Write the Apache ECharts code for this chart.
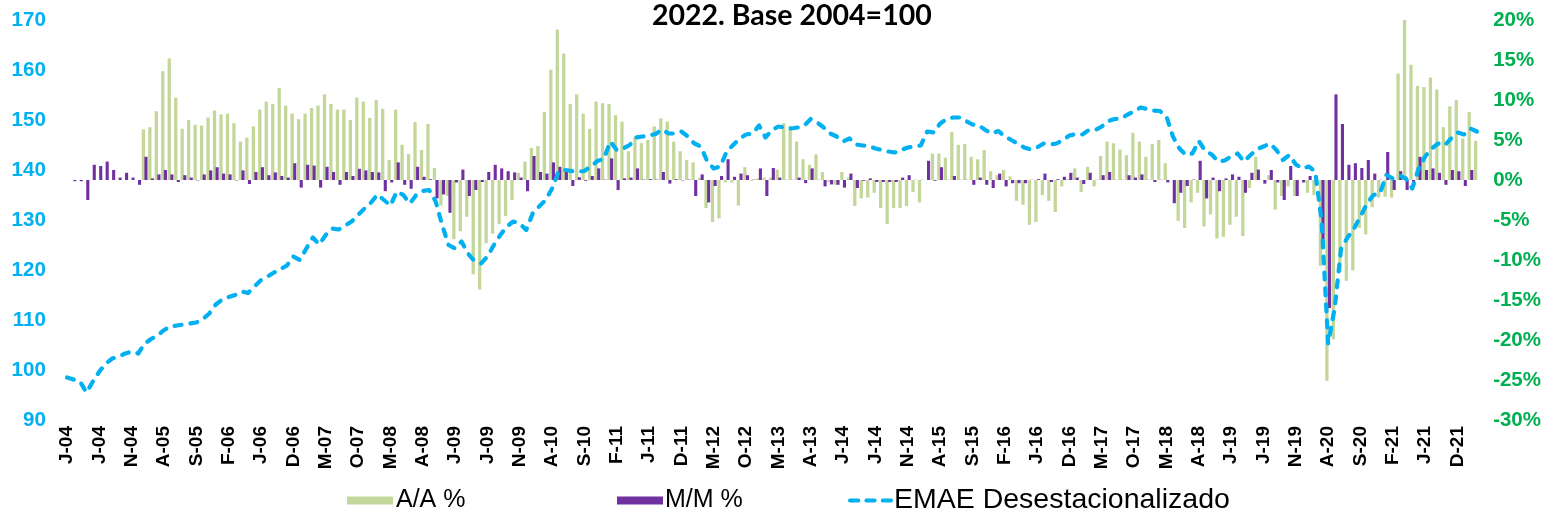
<!DOCTYPE html>
<html>
<head>
<meta charset="utf-8">
<script src="https://cdn.jsdelivr.net/npm/echarts@6/dist/echarts.min.js"></script>
<style>
html,body{margin:0;padding:0;background:#fff;}
#chart{width:1544px;height:515px;}
</style>
</head>
<body>
<div id="chart"></div>
<script>
const categories = [
'J-04','F-04','M-04','A-04','M-04','J-04','J-04','A-04','S-04','O-04','N-04','D-04',
'J-05','F-05','M-05','A-05','M-05','J-05','J-05','A-05','S-05','O-05','N-05','D-05',
'J-06','F-06','M-06','A-06','M-06','J-06','J-06','A-06','S-06','O-06','N-06','D-06',
'J-07','F-07','M-07','A-07','M-07','J-07','J-07','A-07','S-07','O-07','N-07','D-07',
'J-08','F-08','M-08','A-08','M-08','J-08','J-08','A-08','S-08','O-08','N-08','D-08',
'J-09','F-09','M-09','A-09','M-09','J-09','J-09','A-09','S-09','O-09','N-09','D-09',
'J-10','F-10','M-10','A-10','M-10','J-10','J-10','A-10','S-10','O-10','N-10','D-10',
'J-11','F-11','M-11','A-11','M-11','J-11','J-11','A-11','S-11','O-11','N-11','D-11',
'J-12','F-12','M-12','A-12','M-12','J-12','J-12','A-12','S-12','O-12','N-12','D-12',
'J-13','F-13','M-13','A-13','M-13','J-13','J-13','A-13','S-13','O-13','N-13','D-13',
'J-14','F-14','M-14','A-14','M-14','J-14','J-14','A-14','S-14','O-14','N-14','D-14',
'J-15','F-15','M-15','A-15','M-15','J-15','J-15','A-15','S-15','O-15','N-15','D-15',
'J-16','F-16','M-16','A-16','M-16','J-16','J-16','A-16','S-16','O-16','N-16','D-16',
'J-17','F-17','M-17','A-17','M-17','J-17','J-17','A-17','S-17','O-17','N-17','D-17',
'J-18','F-18','M-18','A-18','M-18','J-18','J-18','A-18','S-18','O-18','N-18','D-18',
'J-19','F-19','M-19','A-19','M-19','J-19','J-19','A-19','S-19','O-19','N-19','D-19',
'J-20','F-20','M-20','A-20','M-20','J-20','J-20','A-20','S-20','O-20','N-20','D-20',
'J-21','F-21','M-21','A-21','M-21','J-21','J-21','A-21','S-21','O-21','N-21','D-21',
'J-22','F-22','M-22'
];

// A/A % (year-on-year)
const aaPct = [
null,null,null,null,null,null,null,null,null,null,null,null,
6.33,6.6,8.6,13.6,15.2,10.3,6.4,7.5,6.9,6.8,7.8,8.7,
8.2,8.3,7.1,4.8,5.3,6.7,8.8,9.8,9.5,11.5,9.3,8.3,
7.6,8.3,9.0,9.3,10.7,9.5,8.8,8.8,7.5,10.3,9.8,7.75,
10.0,8.9,2.5,8.8,4.4,3.25,7.25,3.75,7.0,1.5,-3.2,-2.0,
-7.4,-6.4,-4.6,-11.8,-13.7,-7.9,-6.7,-5.5,-4.5,-2.5,0.9,2.3,
4.0,4.25,8.5,13.8,18.8,15.8,9.5,10.7,8.3,6.4,9.8,9.6,
9.5,8.1,7.3,3.6,5.4,4.6,5.0,6.7,7.7,7.3,4.8,3.6,
2.5,2.2,0.3,-3.5,-5.25,-4.8,-0.3,-0.3,-3.2,1.6,-0.1,0.2,
0.3,0.3,1.3,7.1,6.7,4.8,2.6,1.9,3.2,1.0,-0.3,-0.6,
1.0,0.3,-3.25,-2.3,-2.2,-1.6,-3.5,-5.5,-3.5,-3.5,-3.25,-1.5,
-2.8,0.0,3.3,3.3,2.8,6.0,4.4,4.5,2.9,2.6,3.75,1.1,
0.6,1.25,0.45,-2.6,-3.1,-5.6,-5.25,-1.9,-2.6,-4.0,-0.8,0.1,
1.45,-1.5,1.65,-0.8,3.0,4.8,4.6,3.8,3.1,5.9,4.8,2.9,
4.5,5.0,2.1,0.0,-5.1,-6.0,-2.8,-1.6,-5.8,-4.3,-7.3,-7.1,
-5.6,-4.6,-7.0,-1.0,2.9,0.0,0.6,-3.7,-2.0,-0.8,-2.0,0.0,
-1.6,-1.9,-10.75,-25.1,-19.9,-11.5,-12.6,-11.3,-6.0,-6.8,-3.4,-2.2,
-2.1,-2.2,13.3,20.1,14.4,11.75,11.6,12.8,11.3,6.6,9.2,10.0,
5.2,8.5,4.9
];

// M/M % (month-on-month)
const mmPct = [
null,-0.15,-0.15,-2.5,1.9,1.75,2.3,1.25,0.3,0.9,0.3,-0.6,
2.9,0.2,0.7,1.25,0.7,-0.25,0.6,0.3,-0.05,0.7,1.2,1.6,
0.8,0.7,-0.05,1.2,-0.5,1.0,1.6,0.6,0.95,0.5,0.3,2.1,
-0.95,1.9,1.8,-0.95,1.65,1.0,-0.6,1.0,0.5,1.4,1.2,1.0,
0.95,-1.4,-0.3,2.2,-0.6,-1.1,1.65,0.4,0.1,-2.3,-1.8,-4.1,
-0.3,1.3,-2.0,-1.25,-0.25,1.0,1.9,1.45,1.1,0.95,0.3,-1.4,
3.0,1.0,0.8,2.2,1.65,1.0,-0.75,0.35,-0.1,0.5,1.45,0.05,
2.7,-1.25,0.2,0.3,1.45,0.05,0.1,0.05,1.0,-0.45,0.1,-0.05,
0.05,-2.0,0.7,-2.8,-0.75,0.5,2.6,0.4,0.8,0.6,0.05,1.45,
-2.0,1.5,0.3,0.02,0.02,0.3,-0.4,1.45,0.02,-0.8,-0.55,-0.6,
-0.95,0.8,-1.0,-0.1,0.2,-0.25,-0.25,-0.25,-0.25,0.3,0.6,0.02,
0.02,2.4,-0.1,1.6,0.02,0.5,0.02,0.02,-0.6,0.3,-0.6,-1.0,
0.8,-0.8,-0.4,-0.4,-0.4,0.02,0.1,0.8,-0.25,0.1,0.4,0.9,
0.3,-0.5,0.9,0.02,0.6,1.0,0.02,0.02,0.6,0.3,0.7,0.02,
-0.25,0.02,-0.3,-2.9,-1.6,-0.75,0.05,2.4,-2.3,0.3,-1.4,0.2,
0.7,0.4,-1.6,0.9,1.3,-0.45,1.25,-0.3,-2.5,1.75,-2.0,-0.3,
0.5,0.02,-8.5,-16.0,10.7,7.0,1.9,2.1,1.5,2.5,0.8,0.02,
3.5,-1.25,1.1,-1.25,-0.55,2.9,1.25,1.45,0.9,-0.6,1.25,1.1,
-0.75,1.25,null
];

// EMAE desestacionalizado (index, 2004=100)
const emae = [
98.5,98.1,97.7,95.5,97.7,99.7,101.3,102.3,102.7,103.3,103.7,103.3,
105.3,106.2,106.9,108.0,108.7,108.9,109.1,109.3,109.5,110.2,111.3,113.1,
114.1,114.6,115.0,115.7,115.4,116.7,118.0,118.7,119.5,120.2,120.9,122.7,
122.0,124.3,126.5,125.1,127.0,128.3,128.1,128.9,129.7,131.0,132.3,133.5,
135.1,134.0,132.9,135.7,135.0,133.3,135.0,135.8,136.0,133.7,129.0,125.0,
124.3,125.7,123.3,121.8,121.3,122.7,125.0,127.0,128.7,129.7,129.3,128.0,
131.3,132.7,134.0,136.3,139.7,140.0,139.8,139.7,139.8,140.7,141.8,142.2,
145.7,144.0,144.3,145.0,146.5,146.7,146.9,147.2,148.1,147.3,147.3,147.7,
146.7,145.3,144.7,141.7,140.3,140.7,143.7,145.0,146.3,147.1,147.3,148.9,
146.5,148.0,148.7,148.5,148.3,148.5,148.9,150.2,149.5,148.5,147.3,146.7,
145.7,146.3,145.1,144.9,144.8,144.3,144.0,143.7,143.5,144.0,144.5,144.7,
144.9,147.7,147.5,149.3,150.2,150.5,150.5,149.8,149.1,148.9,148.0,147.3,
147.8,146.7,146.0,145.3,144.5,144.1,144.5,145.3,145.1,145.3,146.0,146.9,
147.2,147.1,148.0,148.0,148.7,149.8,150.2,150.3,151.1,151.7,152.5,152.2,
151.9,151.8,150.7,146.7,144.3,143.0,143.3,145.8,143.8,143.1,141.7,141.9,
142.7,143.3,141.7,143.0,144.2,144.7,145.3,144.0,142.0,143.0,141.1,140.3,
140.7,139.7,129.7,105.3,112.3,124.3,126.5,128.3,130.7,133.3,135.0,135.3,
139.0,138.3,138.9,138.3,136.3,140.3,142.7,144.3,145.3,144.9,146.3,147.5,
147.1,148.3,147.7
];

const leftTicks = {min: 90, max: 170, interval: 10};
const rightTicks = {min: -30, max: 20, interval: 5};

const chart = echarts.init(document.getElementById('chart'), null, {renderer: 'canvas'});
const legendFont = "'Liberation Sans',Arial,sans-serif";
const dashIcon = 'path://M2,0h8a2,2 0 0 1 0,4h-8a2,2 0 0 1 0,-4z M18,0h8a2,2 0 0 1 0,4h-8a2,2 0 0 1 0,-4z M34,0h8a2,2 0 0 1 0,4h-8a2,2 0 0 1 0,-4z';
chart.setOption({
  animation: false,
  backgroundColor: '#fff',
  title: {
    text: '2022. Base 2004=100',
    left: 647,
    top: -4,
    textStyle: {fontFamily: 'Lato, "Open Sans", sans-serif', fontWeight: 'bold', fontSize: 28.5, color: '#000'}
  },
  grid: {left: 63.8, right: 61.1, top: 20, bottom: 95, containLabel: false},
  legend: [
    {data: ['A/A %'], left: 347, top: 488, itemWidth: 46, itemHeight: 8, itemGap: 0, icon: 'rect',
     textStyle: {fontFamily: legendFont, fontSize: 25, color: '#000', padding: [0, 0, 0, -2]}, padding: 0},
    {data: ['M/M %'], left: 617, top: 488, itemWidth: 46, itemHeight: 8, itemGap: 0, icon: 'rect',
     textStyle: {fontFamily: legendFont, fontSize: 25, color: '#000', padding: [0, 0, 0, -3]}, padding: 0},
    {data: ['EMAE Desestacionalizado'], left: 848, top: 486, itemWidth: 45, itemHeight: 5, itemGap: 0, icon: dashIcon,
     textStyle: {fontFamily: legendFont, fontSize: 28.5, color: '#000', padding: [0, 0, 0, -4]}, padding: 0}
  ],
  xAxis: {
    type: 'category',
    data: categories,
    boundaryGap: true,
    axisLine: {show: false},
    axisTick: {show: false},
    axisLabel: {
      interval: 4,
      rotate: 90,
      margin: 6,
      fontFamily: "'Liberation Sans',Arial,sans-serif",
      fontWeight: 'bold',
      fontSize: 19,
      color: '#000'
    }
  },
  yAxis: [
    {
      type: 'value',
      min: leftTicks.min, max: leftTicks.max, interval: leftTicks.interval,
      splitLine: {show: false},
      axisLine: {show: false},
      axisTick: {show: false},
      axisLabel: {margin: 18, fontFamily: "'Liberation Sans',Arial,sans-serif", fontWeight: 'bold', fontSize: 20.5, color: '#00B0F0'}
    },
    {
      type: 'value',
      position: 'right',
      min: rightTicks.min, max: rightTicks.max, interval: rightTicks.interval,
      splitLine: {show: false},
      axisLine: {show: false},
      axisTick: {show: false},
      axisLabel: {margin: 13, formatter: '{value}%', fontFamily: "'Liberation Sans',Arial,sans-serif", fontWeight: 'bold', fontSize: 20.5, color: '#00B050'}
    }
  ],
  series: [
    {
      name: 'A/A %',
      type: 'bar',
      yAxisIndex: 1,
      data: aaPct,
      barWidth: 3.3,
      barGap: '-18%',
      itemStyle: {color: '#C4D79B'}
    },
    {
      name: 'M/M %',
      type: 'bar',
      yAxisIndex: 1,
      data: mmPct,
      barWidth: 3.1,
      itemStyle: {color: '#7030A0'}
    },
    {
      name: 'EMAE Desestacionalizado',
      type: 'line',
      yAxisIndex: 0,
      data: emae,
      symbol: 'none',
      showSymbol: false,
      z: 5,
      lineStyle: {color: '#00B0F0', width: 4.2, type: [7, 9], cap: 'round', join: 'round'},
      itemStyle: {color: '#00B0F0'}
    }
  ]
});
</script>
</body>
</html>
